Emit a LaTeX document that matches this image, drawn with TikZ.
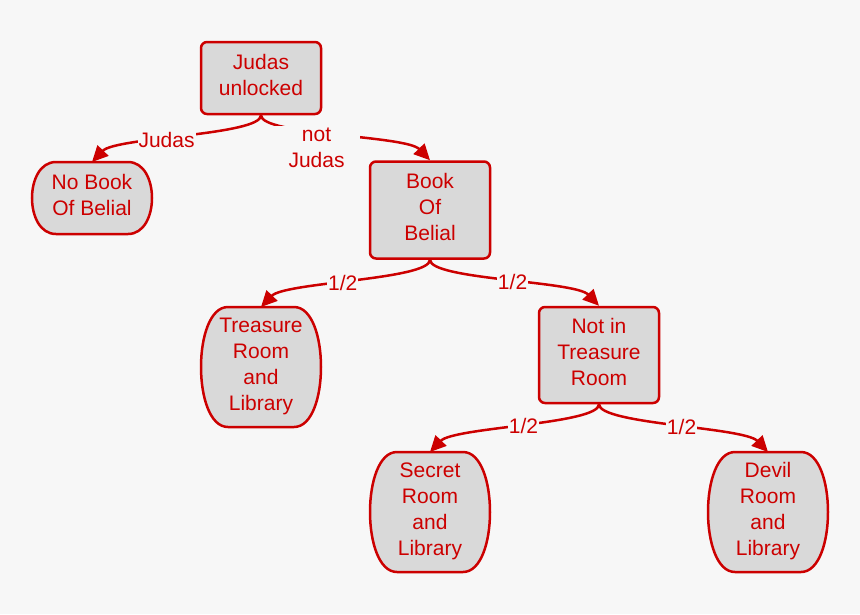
\documentclass[tikz,border=0pt]{standalone}
\usepackage{fontspec}
\setmainfont{Liberation Sans}
\usetikzlibrary{arrows.meta,backgrounds}
\definecolor{bgc}{HTML}{F7F7F7}
\definecolor{redc}{HTML}{CC0000}
\definecolor{fillc}{HTML}{D9D9D9}
\tikzset{
  txt/.style={text=redc, font=\fontsize{21}{26}\selectfont, align=center},
  shifted/.style={execute at end node={\rule[-6pt]{0pt}{6pt}}},
  box/.style={txt, shifted, draw=redc, fill=fillc, line width=2.5pt, rounded corners=6pt,
    minimum width=120pt, inner sep=0pt},
  barrelnode/.style={txt, shifted, minimum width=120pt, inner sep=0pt, outer sep=0pt},
  barrelline/.style={draw=redc, fill=fillc, line width=2.5pt},
  conn/.style={draw=redc, line width=2.5pt, -{Triangle[length=16pt,width=15pt]}},
  lab/.style={txt, fill=bgc, inner xsep=1pt, inner ysep=0pt}
}
\newcommand\barrelshape[3]{%
  \path[barrelline] ([xshift=#2pt]#1.north west) -- ([xshift=-#2pt]#1.north east)
    .. controls ([xshift=#3pt]#1.north east) and ([xshift=#3pt]#1.south east) ..
    ([xshift=-#2pt]#1.south east) -- ([xshift=#2pt]#1.south west)
    .. controls ([xshift=-#3pt]#1.south west) and ([xshift=-#3pt]#1.north west) ..
    ([xshift=#2pt]#1.north west) -- cycle;}
\begin{document}
\begin{tikzpicture}[x=1pt,y=-1pt]
\useasboundingbox (0,0) rectangle (860,614);
\begin{scope}[on background layer]
  \fill[bgc] (0,0) rectangle (860,614);
\end{scope}

\node[box, minimum height=72pt] (J) at (261,78) {Judas\\unlocked};
\node[barrelnode, minimum height=72pt] (NB) at (92,198) {No Book\\Of Belial};
\node[box, minimum height=97pt] (B) at (430,210) {Book\\Of\\Belial};
\node[barrelnode, minimum height=120pt] (TR) at (261,367) {Treasure\\Room\\and\\Library};
\node[box, minimum height=96pt] (NI) at (599,355) {Not in\\Treasure\\Room};
\node[barrelnode, minimum height=120pt] (SR) at (430,512) {Secret\\Room\\and\\Library};
\node[barrelnode, minimum height=120pt] (DR) at (768,512) {Devil\\Room\\and\\Library};

\begin{scope}[on background layer]
  \barrelshape{NB}{24}{8}
  \barrelshape{TR}{27}{9}
  \barrelshape{SR}{27}{9}
  \barrelshape{DR}{27}{9}
\end{scope}

\draw[conn] (J.south) .. controls +(0,20) and +(24,-25) .. (NB.north)
  node[lab, pos=0.58] {Judas};
\draw[conn] (J.south) .. controls +(0,20) and +(-24,-25) .. (B.north)
  node[lab, pos=0.4, xshift=3pt, yshift=-15pt, inner xsep=15pt, inner ysep=2pt] {not\\Judas};
\draw[conn] (B.south) .. controls +(0,20) and +(24,-25) .. (TR.north)
  node[lab, pos=0.55] {1/2};
\draw[conn] (B.south) .. controls +(0,20) and +(-24,-25) .. (NI.north)
  node[lab, pos=0.53] {1/2};
\draw[conn] (NI.south) .. controls +(0,20) and +(24,-25) .. (SR.north)
  node[lab, pos=0.5] {1/2};
\draw[conn] (NI.south) .. controls +(0,20) and +(-24,-25) .. (DR.north)
  node[lab, pos=0.53] {1/2};
\end{tikzpicture}
\end{document}
